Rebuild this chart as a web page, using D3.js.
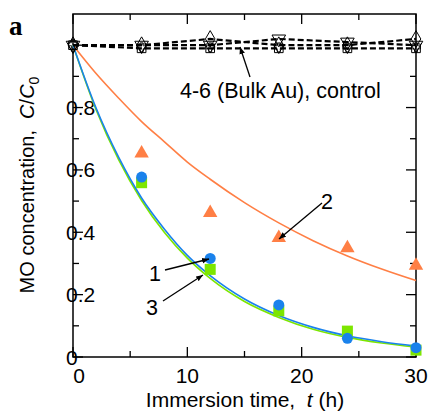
<!DOCTYPE html>
<html>
<head>
<meta charset="utf-8">
<script src="https://cdn.jsdelivr.net/npm/d3@7"></script>
<style>
  body { margin: 0; background: #fff; }
  text { font-family: "Liberation Sans", Arial, sans-serif; }
</style>
</head>
<body>
<div id="chart"></div>
<script>
// measured points (time in h, C/C0)
const times = [0, 6, 12, 18, 24, 30];
const series1 = [1.0, 0.577, 0.316, 0.167, 0.060, 0.030];   // blue circles
const series2 = [1.0, 0.653, 0.462, 0.382, 0.349, 0.293];   // orange triangles
const series3 = [1.0, 0.559, 0.281, 0.148, 0.083, 0.022];   // green squares
// controls 4-6 (bulk Au)
const series4 = [1.0, 1.0, 1.0, 1.02, 1.01, 1.0];
const series5 = [1.0, 1.0, 1.02, 1.0, 1.0, 1.02];
const series6 = [1.0, 0.99, 0.99, 0.99, 0.99, 0.99];

// fitted curves
const fitTimes = [0, 2, 4, 6, 8, 10, 12, 15, 18, 21, 24, 27, 30];
const fit1 = [1.0, 0.80, 0.64, 0.51, 0.41, 0.326, 0.261, 0.186, 0.133, 0.095, 0.068, 0.049, 0.035];
const fit2 = [1.0, 0.91, 0.83, 0.755, 0.69, 0.625, 0.57, 0.495, 0.43, 0.373, 0.324, 0.282, 0.245];
const fit3 = [1.0, 0.795, 0.632, 0.502, 0.399, 0.317, 0.252, 0.178, 0.127, 0.089, 0.063, 0.045, 0.032];

const xTicks = [0, 10, 20, 30];
const yTicks = [0, 0.2, 0.4, 0.6, 0.8];

const blue = "#1a82ec", orange = "#ff7f45", green = "#7de600";

const W = 439, H = 412;
const svg = d3.select("#chart").append("svg")
  .attr("width", W).attr("height", H);

const x = d3.scaleLinear().domain([0, 30]).range([73, 416]);
const y = d3.scaleLinear().domain([0, 1.1]).range([357, 14]);

// frame
svg.append("rect")
  .attr("x", x(0)).attr("y", y(1.1))
  .attr("width", x(30) - x(0)).attr("height", y(0) - y(1.1))
  .attr("fill", "none").attr("stroke", "#000").attr("stroke-width", 1.5);

// ticks (all inward)
const xAll = d3.range(0, 31, 5);
const yAll = d3.range(0, 11).map(d => d / 10);
xAll.forEach(t => {
  const len = t % 10 === 0 ? 10 : 6;
  svg.append("line").attr("x1", x(t)).attr("x2", x(t))
    .attr("y1", y(0)).attr("y2", y(0) - len).attr("stroke", "#000").attr("stroke-width", 1.3);
  svg.append("line").attr("x1", x(t)).attr("x2", x(t))
    .attr("y1", y(1.1)).attr("y2", y(1.1) + len).attr("stroke", "#000").attr("stroke-width", 1.3);
});
yAll.forEach(v => {
  const len = Math.round(v * 10) % 2 === 0 ? 10 : 6;
  svg.append("line").attr("x1", x(0)).attr("x2", x(0) + len)
    .attr("y1", y(v)).attr("y2", y(v)).attr("stroke", "#000").attr("stroke-width", 1.3);
  svg.append("line").attr("x1", x(30)).attr("x2", x(30) - len)
    .attr("y1", y(v)).attr("y2", y(v)).attr("stroke", "#000").attr("stroke-width", 1.3);
});

// tick labels
svg.selectAll(".xl").data(xTicks).join("text")
  .attr("x", d => x(d) + (d === 0 ? 6 : 0))
  .attr("y", 383)
  .attr("text-anchor", "middle")
  .style("font-size", "21px")
  .text(d => d);

svg.selectAll(".yl").data(yTicks).join("text")
  .attr("x", 66)
  .attr("y", d => y(d) + 7.5)
  .attr("text-anchor", "start")
  .style("font-size", "21px")
  .text(d => d === 0 ? "0" : d.toFixed(1));

// axis titles
const xt = svg.append("text")
  .attr("x", 245).attr("y", 407)
  .attr("text-anchor", "middle")
  .style("font-size", "21px");
xt.append("tspan").text("Immersion time,\u00a0\u00a0");
xt.append("tspan").style("font-style", "italic").text("t");
xt.append("tspan").text(" (h)");

const yt = svg.append("text")
  .attr("transform", "translate(34,185) rotate(-90)")
  .attr("text-anchor", "middle")
  .style("font-size", "20px");
yt.append("tspan").text("MO concentration,\u00a0\u00a0");
yt.append("tspan").style("font-style", "italic").text("C");
yt.append("tspan").text("/");
yt.append("tspan").style("font-style", "italic").text("C");
yt.append("tspan").attr("dy", 5).style("font-size", "14px").text("0");

// panel letter
svg.append("text")
  .attr("x", 9).attr("y", 35)
  .style("font-family", "'Liberation Serif', 'Times New Roman', serif")
  .style("font-weight", "bold")
  .style("font-size", "27px")
  .text("a");

// fitted curves
const line = d3.line().x(d => x(d[0])).y(d => y(d[1])).curve(d3.curveMonotoneX);
[[fit2, orange], [fit3, green], [fit1, blue]].forEach(([vals, col]) => {
  svg.append("path")
    .datum(fitTimes.map((t, i) => [t, vals[i]]))
    .attr("d", line)
    .attr("fill", "none")
    .attr("stroke", col)
    .attr("stroke-width", 1.6);
});

// control dashed lines + open markers
const ctrl = [
  [series4, d3.symbolTriangle, 80, 180],
  [series5, d3.symbolDiamond, 80, 0],
  [series6, d3.symbolSquare, 75, 0]
];
ctrl.forEach(([vals]) => {
  svg.append("path")
    .datum(times.map((t, i) => [t, vals[i]]))
    .attr("d", d3.line().x(d => x(d[0])).y(d => y(d[1])))
    .attr("fill", "none")
    .attr("stroke", "#000")
    .attr("stroke-width", 2.2)
    .attr("stroke-dasharray", "6,3");
});
ctrl.forEach(([vals, sym, size, rot]) => {
  svg.selectAll(null)
    .data(times.map((t, i) => [t, vals[i]]))
    .join("path")
    .attr("d", d3.symbol().type(sym).size(size))
    .attr("transform", d => `translate(${x(d[0])},${y(d[1])}) rotate(${rot})`)
    .attr("fill", "none")
    .attr("stroke", "#000")
    .attr("stroke-width", 1);
});
svg.selectAll(null)
  .data(times)
  .join("path")
  .attr("d", d3.symbol().type(d3.symbolCross).size(45))
  .attr("transform", (t, i) => `translate(${x(t)},${y(series6[i]) - 1})`)
  .attr("fill", "none")
  .attr("stroke", "#000")
  .attr("stroke-width", 0.8);

// measured points
const pts = times.slice(1);
svg.selectAll(".tri").data(pts).join("path")
  .attr("d", d3.symbol().type(d3.symbolTriangle).size(90))
  .attr("transform", (t, i) => `translate(${x(t)},${y(series2[i + 1])})`)
  .attr("fill", orange);
svg.selectAll(".sq").data(pts).join("rect")
  .attr("x", t => x(t) - 5.5)
  .attr("y", (t, i) => y(series3[i + 1]) - 5.5)
  .attr("width", 11).attr("height", 11)
  .attr("fill", green);
svg.selectAll(".ci").data(pts).join("circle")
  .attr("cx", t => x(t))
  .attr("cy", (t, i) => y(series1[i + 1]))
  .attr("r", 5.5)
  .attr("fill", blue);

// annotations
svg.append("defs").append("marker")
  .attr("id", "arr").attr("viewBox", "0 0 10 10")
  .attr("refX", 10).attr("refY", 5)
  .attr("markerWidth", 7).attr("markerHeight", 7)
  .attr("markerUnits", "userSpaceOnUse")
  .attr("orient", "auto")
  .append("path").attr("d", "M0,1 L10,5 L0,9 z").attr("fill", "#000");

const arrows = [
  [250, 77, 240, 47],
  [322, 203, 279, 239],
  [165, 270, 209, 259],
  [163, 301, 203, 275]
];
arrows.forEach(([x1, y1, x2, y2]) => {
  svg.append("line")
    .attr("x1", x1).attr("y1", y1).attr("x2", x2).attr("y2", y2)
    .attr("stroke", "#000").attr("stroke-width", 1.3)
    .attr("marker-end", "url(#arr)");
});

const notes = [
  ["4-6 (Bulk Au), control", 180, 98],
  ["2", 321, 209],
  ["1", 149, 281],
  ["3", 146, 315]
];
notes.forEach(([txt, tx, ty]) => {
  svg.append("text")
    .attr("x", tx).attr("y", ty)
    .style("font-size", "21.5px")
    .text(txt);
});
</script>
</body>
</html>
